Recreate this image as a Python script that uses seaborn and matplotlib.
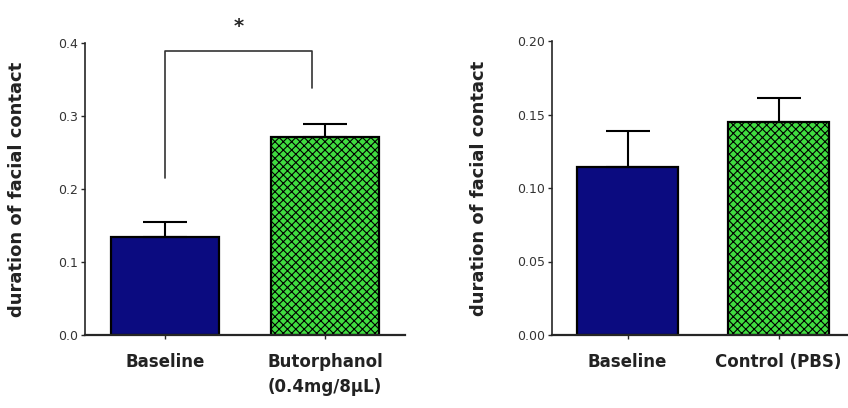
import matplotlib
matplotlib.use('Agg')
import matplotlib.pyplot as plt
import seaborn as sns
import pandas as pd
import numpy as np

# panel A: baseline vs butorphanol
groups_a = ['Baseline', 'Butorphanol\n(0.4mg/8µL)']
means_a = [0.134, 0.271]
sem_a = [0.021, 0.018]
ticks_a = [0.0, 0.1, 0.2, 0.3, 0.4]

# panel B: baseline vs control
groups_b = ['Baseline', 'Control (PBS)']
means_b = [0.114, 0.145]
sem_b = [0.025, 0.016]
ticks_b = [0.00, 0.05, 0.10, 0.15, 0.20]

# significance bracket (panel A)
bracket_top = 0.389
bracket_legs = [0.215, 0.338]

sns.set_theme(style='ticks')
plt.rcParams['font.family'] = ['Liberation Sans Narrow', 'DejaVu Sans']
plt.rcParams['hatch.linewidth'] = 0.8
plt.rcParams['hatch.color'] = '#2a5f2a'

NAVY = '#0b0b80'
GREEN = '#40dc40'

fig = plt.figure(figsize=(8.48, 4.08), dpi=100)
W, H = 848, 408


def add_ax(x0, x1, y_top, y_bot):
    return fig.add_axes([x0 / W, 1 - y_bot / H, (x1 - x0) / W, (y_bot - y_top) / H])


def panel(ax, groups, means, sem, ticks, fmt, xmax):
    df = pd.DataFrame({'group': groups, 'value': means})
    sns.barplot(data=df, x='group', y='value', ax=ax, width=0.67, saturation=1,
                palette=[NAVY, GREEN], hue='group', legend=False,
                edgecolor='black', linewidth=1.6, errorbar=None)
    ax.patches[1].set_hatch('xxxx')
    ax.errorbar(range(len(means)), means, yerr=[np.zeros(len(sem)), sem],
                fmt='none', ecolor='black', elinewidth=1.5, capsize=16,
                capthick=1.5, zorder=1)
    ax.set_ylim(0, ticks[-1])
    ax.set_xlim(-0.5, xmax)
    ax.set_yticks(ticks)
    ax.set_yticklabels([fmt.format(t) for t in ticks], fontsize=9, color='#333333')
    ax.set_xticks(range(len(groups)))
    ax.set_xticklabels(groups, fontsize=12, fontweight='bold', color='#222222',
                       linespacing=1.5, va='top')
    ax.tick_params(axis='y', length=3, width=1, pad=2)
    ax.tick_params(axis='x', length=3, width=1, pad=10)
    ax.set_xlabel('')
    ax.set_ylabel('duration of facial contact', fontsize=13, fontweight='bold',
                  family=['DejaVu Sans'], color='#222222')
    sns.despine(ax=ax)
    ax.spines['left'].set_linewidth(1.2)
    ax.spines['bottom'].set_linewidth(1.6)


ax1 = add_ax(85, 405, 43, 335)
panel(ax1, groups_a, means_a, sem_a, ticks_a, '{:.1f}', 1.5)
ax1.yaxis.set_label_coords(-0.185, 0.5)

# bracket
ax1.plot([0, 0, 0.92, 0.92], [bracket_legs[0], bracket_top, bracket_top, bracket_legs[1]],
         color='#333333', lw=1.2, clip_on=False)
ax1.text(0.46, bracket_top + 0.02, '*', ha='center', va='bottom', fontsize=14,
         fontweight='bold', clip_on=False)

ax2 = add_ax(552, 848, 41, 335)
panel(ax2, groups_b, means_b, sem_b, ticks_b, '{:.2f}', 1.46)
ax2.yaxis.set_label_coords(-0.215, 0.5)

fig.savefig('out.png', dpi=100)
